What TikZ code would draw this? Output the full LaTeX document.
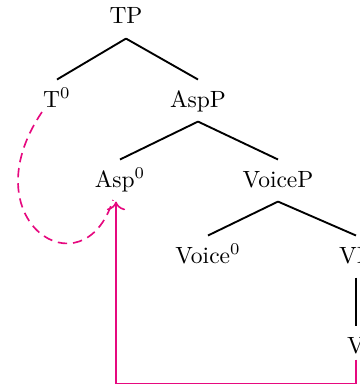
\documentclass[tikz,border=0pt]{standalone}
\usepackage{tikz}
\usetikzlibrary{arrows.meta,calc}
\definecolor{mpink}{HTML}{E6097F}
\tikzset{
 cat/.style={anchor=base,inner sep=4pt,text height=7.5pt,text depth=2pt},
 branch/.style={line width=0.8pt,draw=black},
 move/.style={-{To[length=1.3mm]},line width=0.7pt,draw=mpink},
 trace/.style={line width=0.7pt,draw=mpink,dash pattern=on 4pt off 2.5pt}
}
\begin{document}
\begin{tikzpicture}[x=0.4255pt,y=-0.4255pt]
 \useasboundingbox (0,0) rectangle (360,388);
 % categories
 \node[cat] (tp) at (126,24) {TP};
 \node[cat] (t0) at (57,107) {T$^0$};
 \node[cat] (aspp) at (198,107) {AspP};
 \node[cat] (asp0) at (120,187) {Asp$^0$};
 \node[cat] (voicep) at (278,187) {VoiceP};
 \node[cat] (voice0) at (208,263) {Voice$^0$};
 \node[cat] (vp) at (356,263) {VP};
 \node[cat] (v) at (356,353) {V};
 % branches
 \draw[branch] (tp.south)--(t0.north);
 \draw[branch] (tp.south)--(aspp.north);
 \draw[branch] (aspp.south)--(asp0.north);
 \draw[branch] (aspp.south)--(voicep.north);
 \draw[branch] (voicep.south)--(voice0.north);
 \draw[branch] (voicep.south)--(vp.north);
 \draw[branch] (vp.south)--(v.north);
 % head movement
 \draw[move] ([yshift=3.4pt]v.south) -- ++(0,24) -| ([xshift=-1.7pt]asp0.south);
 \draw[trace] ($(t0.base)+(-15,5)$) .. controls +(-73,108) and +(-30,95) .. ($(asp0.base)+(-7,13)$);
\end{tikzpicture}
\end{document}
